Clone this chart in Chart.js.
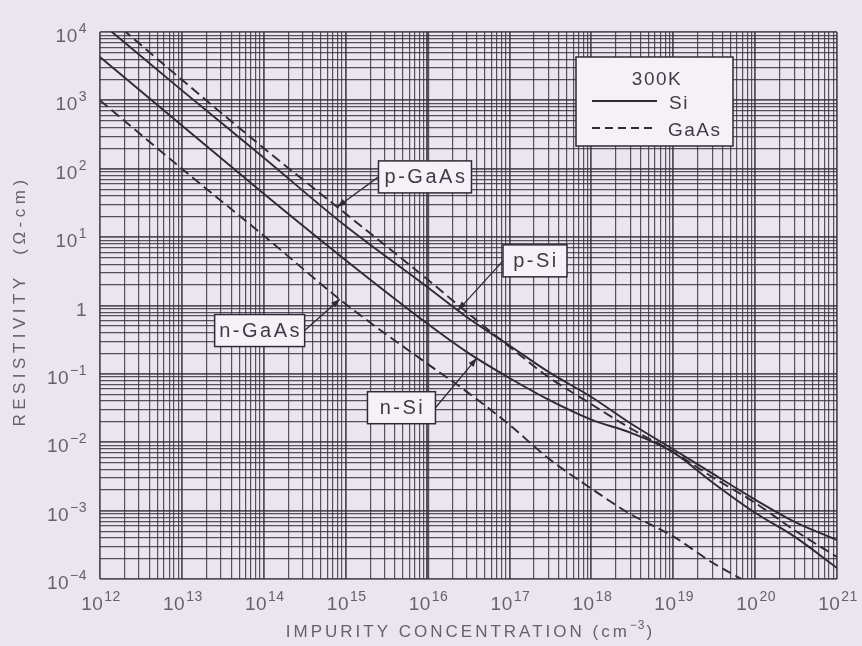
<!DOCTYPE html>
<html>
<head>
<meta charset="utf-8">
<title>Resistivity vs impurity concentration</title>
<script src="https://cdn.jsdelivr.net/npm/chart.js@4.4.1/dist/chart.umd.min.js"></script>
<style>
  html, body { margin: 0; padding: 0; background: #ebe5ee; }
  #wrap { width: 862px; height: 646px; }
</style>
</head>
<body>
<div id="wrap"><canvas id="resChart" width="862" height="646"></canvas></div>
<script>
// impurity concentration (cm^-3) vs resistivity (ohm-cm), 300K
const siConc   = [1e12, 1e13, 1e14, 1e15, 1e16, 3e16, 1e17, 3e17, 1e18, 3e18, 1e19, 3e19, 1e20, 3e20, 1e21];
const nSiRes   = [4300, 430, 43, 4.6, 0.54, 0.21, 0.087, 0.042, 0.0214, 0.0138, 0.0071, 0.0026, 9.3e-4, 4.2e-4, 1.45e-4];
const pSiRes   = [1.4e4, 1.4e3, 145, 14.5, 1.85, 0.68, 0.26, 0.107, 0.046, 0.019, 0.0079, 0.0035, 1.45e-3, 6.9e-4, 3.7e-4];
const pGaAsConc = [1e12, 1e13, 1e14, 1e15, 1e16, 3e16, 1e17, 3e17, 1e18, 3e18, 1e19, 3e19, 1e20, 3e20, 1e21];
const pGaAsRes  = [2.1e4, 2.0e3, 200, 22, 2.4, 0.8, 0.25, 0.09, 0.036, 0.016, 0.0072, 0.0031, 1.3e-3, 5.2e-4, 2.1e-4];
const nGaAsConc = [1e12, 1e13, 1e14, 1e15, 1e16, 3e16, 1e17, 3e17, 1e18, 3e18, 1e19, 3e19, 8e19];
const nGaAsRes  = [1000, 100, 10.5, 1.05, 0.14, 0.055, 0.018, 0.0058, 0.0021, 8.9e-4, 4.2e-4, 1.74e-4, 9e-5];

// decade tick labels (exponents of ten)
const xExponents = [12, 13, 14, 15, 16, 17, 18, 19, 20, 21];
const yExponents = [-4, -3, -2, -1, 0, 1, 2, 3, 4];

const ink = '#2f2b35';
const gridColor = 'rgba(52, 48, 60, 0.82)';
const labelColor = '#67616d';
const FONT = '"Liberation Sans", Arial, sans-serif';

// 1..9 x 10^e lines of log paper
function decadeGrid(lo, hi) {
    const vals = [];
    for (let e = lo; e < hi; e++) {
        for (let m = 1; m <= 9; m++) vals.push(Number(m + 'e' + e));
    }
    vals.push(Number('1e' + hi));
    return vals;
}
const xGrid = decadeGrid(xExponents[0], xExponents[xExponents.length - 1]);
const yGrid = decadeGrid(yExponents[0], yExponents[yExponents.length - 1]);

function isDecade(v) {
    const lg = Math.log10(v);
    return Math.abs(lg - Math.round(lg)) < 1e-9;
}
function gridWidth(ctx) {
    const v = ctx.tick && ctx.tick.value;
    if (!v) return 1.2;
    if (ctx.scale.axis === 'x' && Math.abs(Math.log10(v) - 16) < 1e-9) return 3.2;
    return isDecade(v) ? 1.8 : 1.2;
}

function series(conc, res) {
    return conc.map((n, i) => ({ x: n, y: res[i] }));
}

// log-log interpolation along a curve, used to put the arrow tips on it
function valueAt(conc, res, n) {
    const ln = Math.log10(n);
    for (let i = 0; i < conc.length - 1; i++) {
        const a = Math.log10(conc[i]), b = Math.log10(conc[i + 1]);
        if (ln >= a && ln <= b) {
            const t = (ln - a) / (b - a);
            return Math.pow(10, Math.log10(res[i]) + t * (Math.log10(res[i + 1]) - Math.log10(res[i])));
        }
    }
    return res[res.length - 1];
}

// label boxes: centre in data units, box width, arrow tip concentration, side the leader leaves from
const curveTags = [
    { text: 'p-GaAs', at: [9.3e15, 76],   w: 93, tip: 7.9e14, conc: pGaAsConc, res: pGaAsRes, side: 'left' },
    { text: 'p-Si',   at: [2.05e17, 4.5], w: 64, tip: 2.35e16, conc: siConc, res: pSiRes, side: 'left' },
    { text: 'n-GaAs', at: [8.9e13, 0.43], w: 90, tip: 8.5e14, conc: nGaAsConc, res: nGaAsRes, side: 'right' },
    { text: 'n-Si',   at: [4.8e15, 0.032], w: 68, tip: 4.0e16, conc: siConc, res: nSiRes, side: 'right' }
];

function spaced(ctx, px) {
    ctx.letterSpacing = px + 'px';
}

function drawPower(ctx, x, y, exp, align) {
    // "10" with a raised exponent, or a plain "1"
    ctx.fillStyle = labelColor;
    ctx.textBaseline = 'alphabetic';
    spaced(ctx, 0.5);
    ctx.font = '19px ' + FONT;
    if (exp === 0) {
        ctx.textAlign = align === 'right' ? 'right' : 'center';
        ctx.fillText('1', x, y);
        return;
    }
    const bw = ctx.measureText('10').width;
    ctx.font = '14px ' + FONT;
    const es = String(exp).replace('-', '\u2212');
    const ew = ctx.measureText(es).width;
    const left = align === 'right' ? x - bw - ew - 1 : x - (bw + ew + 1) / 2;
    ctx.textAlign = 'left';
    ctx.font = '19px ' + FONT;
    ctx.fillText('10', left, y);
    ctx.font = '14px ' + FONT;
    ctx.fillText(es, left + bw + 1, y - 9);
}

function drawArrow(ctx, x0, y0, x1, y1) {
    ctx.strokeStyle = ink;
    ctx.fillStyle = ink;
    ctx.lineWidth = 1.3;
    ctx.setLineDash([]);
    ctx.beginPath();
    ctx.moveTo(x0, y0);
    ctx.lineTo(x1, y1);
    ctx.stroke();
    const ang = Math.atan2(y1 - y0, x1 - x0);
    const L = 9, W = 3.2;
    ctx.beginPath();
    ctx.moveTo(x1, y1);
    ctx.lineTo(x1 - L * Math.cos(ang) + W * Math.sin(ang), y1 - L * Math.sin(ang) - W * Math.cos(ang));
    ctx.lineTo(x1 - L * Math.cos(ang) - W * Math.sin(ang), y1 - L * Math.sin(ang) + W * Math.cos(ang));
    ctx.closePath();
    ctx.fill();
}

const paperText = {
    id: 'paperText',
    afterDraw(chart) {
        const ctx = chart.ctx;
        const xs = chart.scales.x, ys = chart.scales.y;
        const area = chart.chartArea;
        ctx.save();

        // tick labels
        xExponents.forEach(e => {
            drawPower(ctx, xs.getPixelForValue(Number('1e' + e)) + 1, area.bottom + 31, e, 'center');
        });
        yExponents.forEach(e => {
            drawPower(ctx, area.left - 13, ys.getPixelForValue(Number('1e' + e)) + 10, e, 'right');
        });

        // axis titles
        ctx.fillStyle = labelColor;
        ctx.textBaseline = 'alphabetic';
        ctx.textAlign = 'left';
        ctx.font = '17px ' + FONT;
        spaced(ctx, 3);
        const t1 = 'IMPURITY CONCENTRATION (cm';
        const w1 = ctx.measureText(t1).width;
        ctx.font = '12px ' + FONT;
        spaced(ctx, 1);
        const w2 = ctx.measureText('\u22123').width;
        ctx.font = '17px ' + FONT;
        spaced(ctx, 3);
        const w3 = ctx.measureText(')').width;
        const tx = 470 - (w1 + w2 + w3) / 2;
        ctx.fillText(t1, tx, 637);
        ctx.font = '12px ' + FONT;
        spaced(ctx, 1);
        ctx.fillText('\u22123', tx + w1, 629);
        ctx.font = '17px ' + FONT;
        spaced(ctx, 3);
        ctx.fillText(')', tx + w1 + w2 + 1, 637);

        ctx.save();
        ctx.translate(25, 301);
        ctx.rotate(-Math.PI / 2);
        ctx.font = '17px ' + FONT;
        spaced(ctx, 4.5);
        ctx.textAlign = 'center';
        ctx.fillText('RESISTIVITY  (\u03A9-cm)', 0, 0);
        ctx.restore();

        // curve tags with leaders
        curveTags.forEach(tag => {
            const cx = xs.getPixelForValue(tag.at[0]);
            const cy = ys.getPixelForValue(tag.at[1]);
            ctx.font = '20px ' + FONT;
            spaced(ctx, 2.5);
            const bw = tag.w, bh = 32;
            const bx = cx - bw / 2, by = cy - bh / 2;
            const px = xs.getPixelForValue(tag.tip);
            const py = ys.getPixelForValue(valueAt(tag.conc, tag.res, tag.tip));
            drawArrow(ctx, tag.side === 'left' ? bx : bx + bw, cy, px, py);
            ctx.fillStyle = '#f5f1f6';
            ctx.fillRect(bx, by, bw, bh);
            ctx.strokeStyle = ink;
            ctx.lineWidth = 1.5;
            ctx.strokeRect(bx, by, bw, bh);
            ctx.fillStyle = '#403a46';
            ctx.textAlign = 'center';
            ctx.textBaseline = 'middle';
            ctx.fillText(tag.text, cx + 1, cy + 1);
        });

        // legend box
        const lx = 576, ly = 57, lw = 157, lh = 89;
        ctx.fillStyle = '#f5f1f6';
        ctx.fillRect(lx, ly, lw, lh);
        ctx.strokeStyle = ink;
        ctx.lineWidth = 1.5;
        ctx.strokeRect(lx, ly, lw, lh);
        ctx.fillStyle = '#403a46';
        ctx.textBaseline = 'alphabetic';
        ctx.font = '19px ' + FONT;
        spaced(ctx, 1.5);
        ctx.textAlign = 'center';
        ctx.fillText('300K', lx + 81, ly + 28);
        ctx.textAlign = 'left';
        ctx.fillText('Si', lx + 93, ly + 52);
        ctx.fillText('GaAs', lx + 92, ly + 79);
        ctx.strokeStyle = ink;
        ctx.lineWidth = 2;
        ctx.beginPath();
        ctx.moveTo(lx + 16, ly + 44);
        ctx.lineTo(lx + 81, ly + 44);
        ctx.stroke();
        ctx.setLineDash([8, 5]);
        ctx.beginPath();
        ctx.moveTo(lx + 16, ly + 71);
        ctx.lineTo(lx + 81, ly + 71);
        ctx.stroke();
        ctx.setLineDash([]);

        ctx.restore();
    }
};

const lineStyle = {
    borderColor: ink,
    borderWidth: 1.9,
    pointRadius: 0,
    fill: false,
    cubicInterpolationMode: 'monotone'
};

new Chart(document.getElementById('resChart'), {
    type: 'line',
    data: {
        datasets: [
            Object.assign({ label: 'n-Si', data: series(siConc, nSiRes) }, lineStyle),
            Object.assign({ label: 'p-Si', data: series(siConc, pSiRes) }, lineStyle),
            Object.assign({ label: 'p-GaAs', data: series(pGaAsConc, pGaAsRes), borderDash: [10, 5] }, lineStyle),
            Object.assign({ label: 'n-GaAs', data: series(nGaAsConc, nGaAsRes), borderDash: [10, 5] }, lineStyle)
        ]
    },
    options: {
        responsive: false,
        animation: false,
        devicePixelRatio: 1,
        layout: { padding: { left: 100, right: 25, top: 32, bottom: 67 } },
        plugins: {
            legend: { display: false },
            tooltip: { enabled: false }
        },
        scales: {
            x: {
                type: 'logarithmic',
                min: 1e12,
                max: 1e21,
                afterBuildTicks: scale => { scale.ticks = xGrid.map(v => ({ value: v })); },
                ticks: { display: false },
                grid: { drawTicks: false, color: gridColor, lineWidth: gridWidth },
                border: { display: false }
            },
            y: {
                type: 'logarithmic',
                min: 1e-4,
                max: 1e4,
                afterBuildTicks: scale => { scale.ticks = yGrid.map(v => ({ value: v })); },
                ticks: { display: false },
                grid: { drawTicks: false, color: gridColor, lineWidth: gridWidth },
                border: { display: false }
            }
        }
    },
    plugins: [paperText]
});
</script>
</body>
</html>
